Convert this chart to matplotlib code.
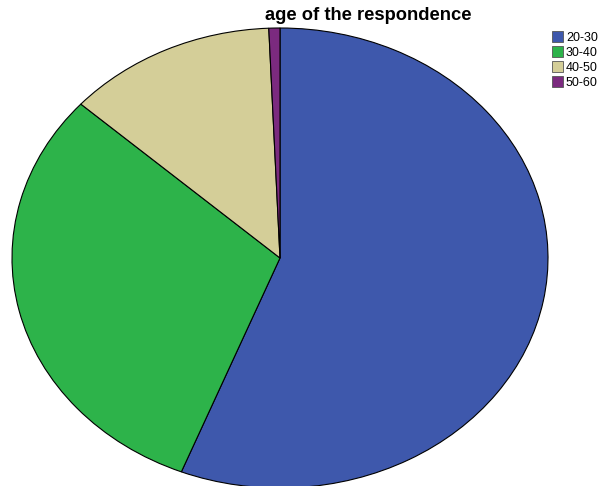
import matplotlib.pyplot as plt
from matplotlib.patches import Patch

labels = ['20-30', '30-40', '40-50', '50-60']
counts = [84, 46, 19, 1]
colors = ['#3e58ac', '#2db34a', '#d4ce98', '#7b2a7f']

fig = plt.figure(figsize=(6, 4.86), dpi=100)
ax = fig.add_axes([12/600, -2/486, 536/600, 460/486])
ax.pie(counts, colors=colors, startangle=90, counterclock=False,
       wedgeprops=dict(edgecolor='black', linewidth=0.8))
ax.set_aspect('auto')
ax.set_xlim(-1.0, 1.0)
ax.set_ylim(-1.0, 1.0)
ax.axis('off')

# title sits to the right of centre, like the original
fig.text(368/600, 1 - 16/486, 'age of the respondence', ha='center', va='center',
         fontsize=13.2, fontweight='bold', family='Liberation Sans')

handles = [Patch(facecolor=c, edgecolor='#555555', linewidth=0.6) for c in colors]
fig.legend(handles, labels, loc='upper left', bbox_to_anchor=(549/600, 1 - 29/486),
           frameon=False, handlelength=0.9, handleheight=0.9,
           handletextpad=0.25, labelspacing=0.2, borderaxespad=0, borderpad=0.2,
           prop={'family': 'Liberation Sans', 'size': 9})

fig.savefig('out.png', dpi=100)
